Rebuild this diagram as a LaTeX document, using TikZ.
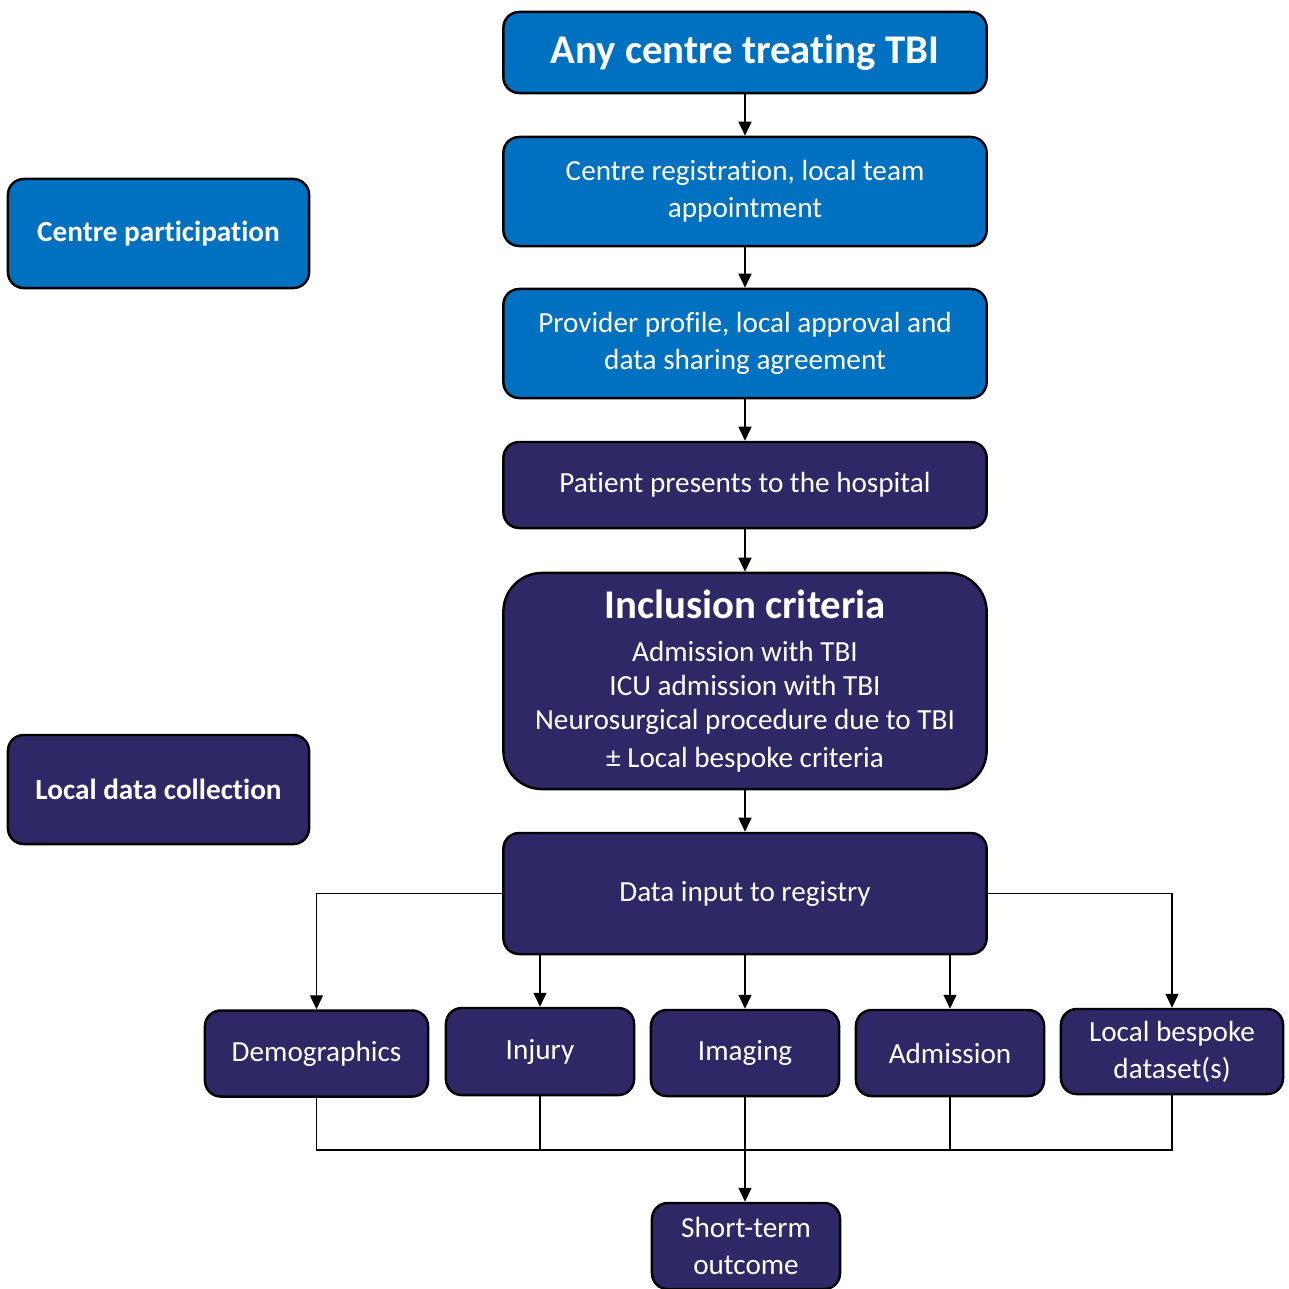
\documentclass[tikz,border=0pt]{standalone}
\usepackage{fontspec}
\setmainfont{Carlito}[Ligatures={NoCommon,NoContextual},Contextuals=NoAlternate]
\usetikzlibrary{arrows.meta,positioning}
\definecolor{regblue}{RGB}{0,112,192}
\definecolor{regnavy}{RGB}{46,41,102}
\tikzset{font={\fontsize{8.3pt}{10.5pt}\selectfont}}

\begin{document}
\begin{tikzpicture}[x=0.01cm,y=-0.01cm,
    box/.style={rectangle,rounded corners=4.5pt,draw=black,line width=0.7pt,
                text=white,align=center,inner sep=0pt},
    blue box/.style={box,fill=regblue},
    navy box/.style={box,fill=regnavy},
    wide box/.style={minimum width=4.83cm},
    side box/.style={minimum width=3.01cm,minimum height=1.09cm,font={\fontsize{8.3pt}{10.5pt}\selectfont\bfseries}},
    item box/.style={navy box,minimum width=1.88cm,minimum height=0.86cm},
    line/.style={line width=0.4pt,black},
    arrow/.style={line,-{Triangle[length=0.14cm,width=0.13cm]}}]

  \useasboundingbox (0,0) rectangle (1289,1288);

  % main column
  \node[blue box,wide box,minimum height=0.81cm,
        font={\fontsize{11.6pt}{14pt}\selectfont\bfseries}] (anycentre) at (745,52.5) {Any centre treating TBI};
  \node[blue box,wide box,minimum height=1.09cm] (register) at (745,191.5) {Centre registration, local team\\appointment};
  \node[blue box,wide box,minimum height=1.09cm] (provider) at (745,343.5) {Provider profile, local approval and\\data sharing agreement};
  \node[navy box,wide box,minimum height=0.86cm] (patient) at (745,485) {Patient presents to the hospital};
  \node[navy box,wide box,minimum height=2.16cm,rounded corners=11pt,
        font={\fontsize{8.3pt}{9.7pt}\selectfont}] (inclusion) at (745,681)
    {{\fontsize{11.6pt}{14pt}\selectfont\bfseries Inclusion criteria}\\[2.5pt]
     Admission with TBI\\ICU admission with TBI\\Neurosurgical procedure due to TBI\\[1pt]± Local bespoke criteria};
  \node[navy box,wide box,minimum height=1.21cm] (datainput) at (745,893.5) {Data input to registry};

  % phase labels
  \node[blue box,side box] (participation) at (158.5,233.5) {Centre participation};
  \node[navy box,side box] (localdata) at (158.5,789.5) {Local data collection};

  % data items
  \node[item box,minimum width=2.23cm] (demographics) at (316.5,1053.5) {Demographics};
  \node[item box,minimum height=0.87cm] (injury) at (540,1051.5) {Injury};
  \node[item box] (imaging) at (745,1053) {Imaging};
  \node[item box] (admission) at (950,1053) {Admission};
  \node[item box,minimum width=2.22cm,minimum height=0.85cm] (bespoke) at (1172,1051.5) {Local bespoke\\dataset(s)};
  \node[item box] (outcome) at (746,1246) {Short-term\\outcome};

  \coordinate (merge) at (745,1150);

  \path[arrow]
    (anycentre) edge (register)
    (register) edge (provider)
    (provider) edge (patient)
    (patient) edge (inclusion)
    (inclusion) edge (datainput);
  \draw[arrow] (datainput.west) -| (demographics.north);
  \draw[arrow] (datainput.east) -| (bespoke.north);
  \draw[arrow] (injury.north |- datainput.south) -- (injury.north);
  \draw[arrow] (datainput) -- (imaging);
  \draw[arrow] (admission.north |- datainput.south) -- (admission.north);

  \draw[line] (demographics.south) |- (merge) -| (bespoke.south);
  \draw[line] (injury.south) -- (injury.south |- merge);
  \draw[line] (admission.south) -- (admission.south |- merge);
  \draw[arrow] (imaging.south) -- (imaging.south |- outcome.north);
\end{tikzpicture}
\end{document}
